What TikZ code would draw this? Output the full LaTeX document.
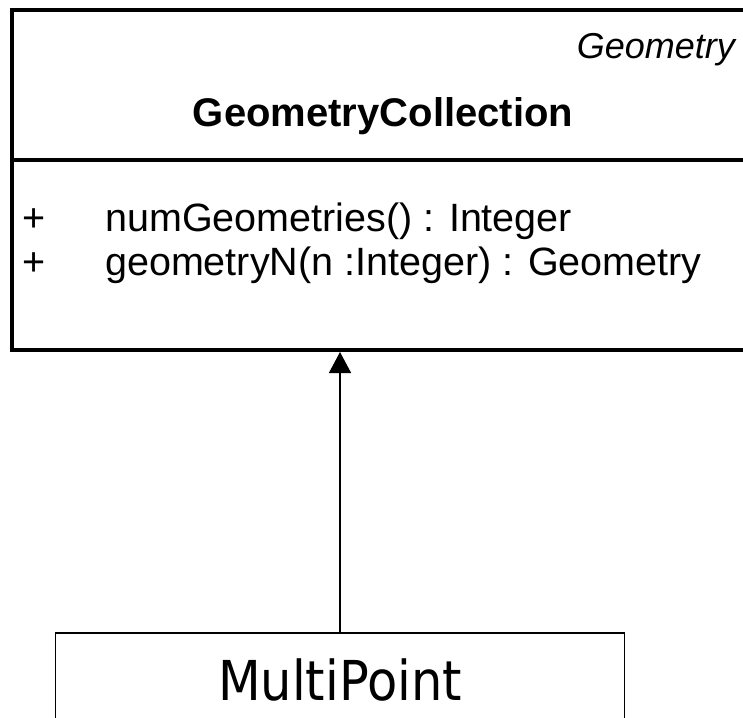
\documentclass[tikz,border=0pt]{standalone}
\usepackage{fontspec}
\setmainfont{Liberation Sans}
\newfontfamily\mpfont{DejaVu Sans Condensed}
\usetikzlibrary{arrows.meta,positioning}

\begin{document}
\begin{tikzpicture}[
  x=1pt, y=-1pt,
  cls/.style={draw, line width=4pt, minimum width=758pt, minimum height=340pt, inner sep=0pt},
  sub/.style={draw, line width=1.5pt, minimum width=569pt, minimum height=130pt, inner sep=0pt},
  t/.style={anchor=base west, inner sep=0pt, font=\fontsize{39.5}{46}\selectfont},
  e/.style={-{Triangle[width=22pt,length=21pt]}, line width=1.5pt}
]
\useasboundingbox (0,0) rectangle (743,717);
\clip (0,0) rectangle (743,717);
\node[cls, anchor=north west] (gc) at (10,8) {};
\draw[line width=4pt] (gc.west |- 0,160) -- (gc.east |- 0,160);
\node[font=\itshape\fontsize{36}{42}\selectfont, anchor=base east, inner sep=0pt] (st) at (735,58) {Geometry};
\node[font=\bfseries\fontsize{40}{46}\selectfont, anchor=base, inner sep=0pt] (nm) at (383,126) {GeometryCollection};
\node[t] (p1) at (22,231) {+};
\node[t] (m1) at (105,231) {numGeometries() : Integer};
\node[t] (p2) at (22,275) {+};
\node[t] (m2) at (105,275) {geometryN(n :Integer) : Geometry};
\node[sub, anchor=north] (mp) at (340,632) {};
\node[font=\mpfont\fontsize{55}{60}\selectfont, anchor=base, inner sep=0pt] (mpt) at (340,700) {MultiPoint};
\draw[e] (mp.north) -- (mp.north |- gc.south);
\end{tikzpicture}
\end{document}
